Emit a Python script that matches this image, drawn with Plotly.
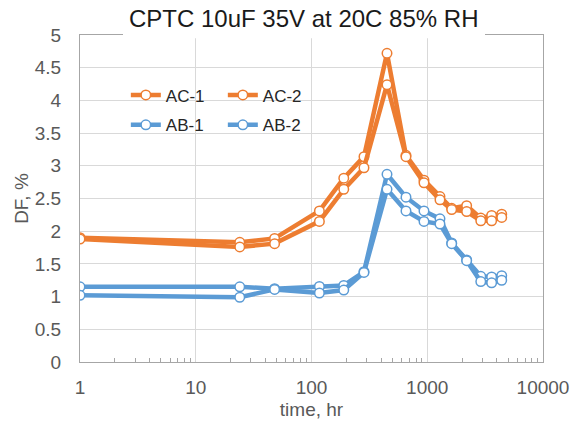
import plotly.graph_objects as go

time_hr = [1, 24, 48, 117, 190, 284, 449, 655, 937, 1288, 1626, 2190, 2900, 3600, 4400]
ac1 = [1.90, 1.83, 1.89, 2.31, 2.81, 3.14, 4.72, 3.16, 2.78, 2.53, 2.35, 2.39, 2.20, 2.24, 2.26]
ac2 = [1.88, 1.76, 1.81, 2.15, 2.64, 2.97, 4.24, 3.14, 2.74, 2.48, 2.33, 2.30, 2.16, 2.16, 2.21]
ab1 = [1.15, 1.15, 1.12, 1.155, 1.17, 1.38, 2.87, 2.52, 2.31, 2.19, 1.82, 1.56, 1.31, 1.30, 1.32]
ab2 = [1.02, 0.99, 1.11, 1.055, 1.10, 1.37, 2.64, 2.31, 2.15, 2.11, 1.81, 1.55, 1.23, 1.21, 1.25]

x_ticks = [1, 10, 100, 1000, 10000]
x_minor = [m * d for d in (1, 10, 100, 1000) for m in range(2, 10)]
y_ticks = [0, 0.5, 1, 1.5, 2, 2.5, 3, 3.5, 4, 4.5, 5]

ORANGE = "#ED7D31"
BLUE = "#5B9BD5"
FONT = "Liberation Sans, Arial, sans-serif"
TICK_COL = "#595959"

series = [
    ("AC-1", ac1, ORANGE, "legend"),
    ("AC-2", ac2, ORANGE, "legend"),
    ("AB-1", ab1, BLUE, "legend2"),
    ("AB-2", ab2, BLUE, "legend2"),
]

fig = go.Figure()
for name, vals, col, leg in series:
    fig.add_trace(go.Scatter(
        x=time_hr, y=vals, name=name, mode="lines+markers",
        line=dict(color=col, width=4.5),
        marker=dict(symbol="circle", size=9.5, color="white",
                    line=dict(color=col, width=1.5)),
        legend=leg,
    ))

leg_common = dict(orientation="h", entrywidth=52, entrywidthmode="pixels",
                  bgcolor="rgba(255,255,255,0)", xanchor="left", yanchor="middle",
                  font=dict(family=FONT, size=17, color="#262626"),
                  itemclick=False, traceorder="normal")

# plot area targeted at x 80-543, y 34.5-362.5 of the 570x426 window
fig.update_layout(
    width=570, height=426,
    paper_bgcolor="white", plot_bgcolor="white",
    margin=dict(l=80, r=27, t=34.5, b=63.5, autoexpand=False),
    font=dict(family=FONT, size=19, color=TICK_COL),
    showlegend=True,
    legend=dict(x=0.099, y=0.8155, **leg_common),
    legend2=dict(x=0.099, y=0.7241, **leg_common),
    xaxis=dict(
        type="log", range=[0, 4], automargin=False,
        tickvals=x_ticks, ticktext=[str(v) for v in x_ticks],
        showgrid=True, gridcolor="#D9D9D9", gridwidth=1,
        showline=True, linecolor="#A6A6A6", linewidth=1.3, mirror=True,
        ticks="", zeroline=False, ticklabelstandoff=8,
        minor=dict(tickvals=x_minor, ticks="inside", ticklen=4, tickcolor="#A6A6A6", showgrid=False),
        title=dict(text="time, hr", font=dict(family=FONT, size=19, color=TICK_COL), standoff=5),
        tickfont=dict(family=FONT, size=19, color=TICK_COL),
    ),
    yaxis=dict(
        range=[0, 5], automargin=False,
        tickvals=y_ticks, ticktext=[f"{v:g}" for v in y_ticks],
        showgrid=True, gridcolor="#D9D9D9", gridwidth=1,
        showline=True, linecolor="#A6A6A6", linewidth=1.3, mirror=True,
        ticks="", zeroline=False, ticklabelstandoff=14,
        title=dict(text="DF, %", font=dict(family=FONT, size=19, color=TICK_COL), standoff=0),
        tickfont=dict(family=FONT, size=19, color=TICK_COL),
    ),
    shapes=[dict(type="rect", xref="paper", yref="paper",
                 x0=(123 - 80) / 463, x1=(485 - 80) / 463, y0=0.99, y1=1.05,
                 fillcolor="white", line=dict(width=0), layer="above")],
    annotations=[dict(text="CPTC 10uF 35V at 20C 85% RH", xref="paper", yref="paper",
                      x=(304 - 80) / 463, y=1.0, yanchor="middle", xanchor="center",
                      showarrow=False, yshift=16.5,
                      font=dict(family=FONT, size=24, color="#1a1a1a"))],
)

fig.write_html("out.html", config={"displayModeBar": False},
               post_script="document.body.style.margin='0px';")
